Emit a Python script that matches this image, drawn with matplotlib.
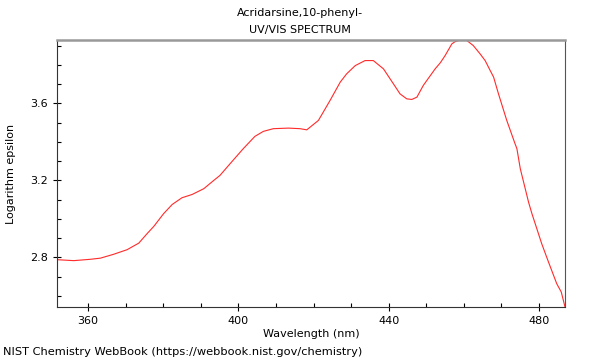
import numpy as np
import matplotlib
matplotlib.use("Agg")
import matplotlib.pyplot as plt
from matplotlib.ticker import MultipleLocator

# spectrum
wavelength = [351.75, 356.2, 360.6, 363.3, 366.8, 370.4, 373.5, 375.7, 377.5,
              380.1, 382.4, 385.0, 387.7, 390.8, 393.45, 395.1, 397.8, 401.3,
              404.4, 406.65, 409.3, 413.3, 416.4, 418.2, 421.3, 424.4, 427.1,
              428.8, 431.1, 433.7, 435.9, 438.6, 441.25, 443.0, 444.8, 446.15,
              447.5, 449.2, 452.35, 453.7, 455.0, 456.8, 457.7, 458.55, 459.7,
              460.8, 462.5, 464.3, 465.65, 467.0, 467.9, 469.2, 471.4, 473.6,
              474.1, 475.0, 477.2, 478.1, 479.4, 480.7, 482.5, 484.7, 485.9,
              486.9]
log_eps = [2.788, 2.783, 2.790, 2.796, 2.816, 2.840, 2.874, 2.923, 2.961,
           3.027, 3.075, 3.110, 3.127, 3.157, 3.200, 3.226, 3.287, 3.365,
           3.429, 3.455, 3.469, 3.472, 3.469, 3.463, 3.512, 3.616, 3.711,
           3.754, 3.797, 3.823, 3.823, 3.780, 3.702, 3.650, 3.624, 3.621,
           3.633, 3.694, 3.780, 3.811, 3.849, 3.910, 3.922, 3.927, 3.930,
           3.927, 3.901, 3.858, 3.823, 3.771, 3.737, 3.650, 3.512, 3.391,
           3.365, 3.261, 3.087, 3.027, 2.949, 2.871, 2.776, 2.663, 2.620,
           2.542]

compound = "Acridarsine,10-phenyl-"
subtitle = "UV/VIS SPECTRUM"
footer = "NIST Chemistry WebBook (https://webbook.nist.gov/chemistry)"

fig = plt.figure(figsize=(6, 3.6), dpi=100)
ax = fig.add_axes([0.095, 0.1472, 0.8467, 0.7417])

x = np.array(wavelength)
y = np.array(log_eps)
ax.plot(x, y, color='#ff2a2a', linewidth=0.8)

ax.set_xlim(x.min(), x.max())
ax.set_ylim(y.min(), y.max())

ax.xaxis.set_major_locator(MultipleLocator(40))
ax.xaxis.set_minor_locator(MultipleLocator(10))
ax.yaxis.set_major_locator(MultipleLocator(0.4))
ax.yaxis.set_minor_locator(MultipleLocator(0.1))
ax.yaxis.set_major_formatter(plt.FormatStrFormatter('%.1f'))

ax.tick_params(which='major', direction='inout', length=6, labelsize=8, width=0.8)
ax.tick_params(which='minor', direction='in', length=3, width=0.8)

ax.spines['top'].set_color('#999999')
ax.spines['top'].set_linewidth(1.8)
ax.spines['right'].set_color('#555555')
ax.spines['right'].set_linewidth(0.8)
for side in ['left', 'bottom']:
    ax.spines[side].set_color('#333333')
    ax.spines[side].set_linewidth(0.8)

ax.set_xlabel('Wavelength (nm)', fontsize=8, labelpad=2)
ax.set_ylabel('Logarithm epsilon', fontsize=8, labelpad=10)

fig.text(0.5, 1 - 13 / 360, compound, ha='center', va='center', fontsize=8)
fig.text(0.5, 1 - 30 / 360, subtitle, ha='center', va='center', fontsize=8)
fig.text(3 / 600, 1 - 352 / 360, footer, ha='left', va='center', fontsize=8.2)

fig.savefig('out.png', dpi=100)
